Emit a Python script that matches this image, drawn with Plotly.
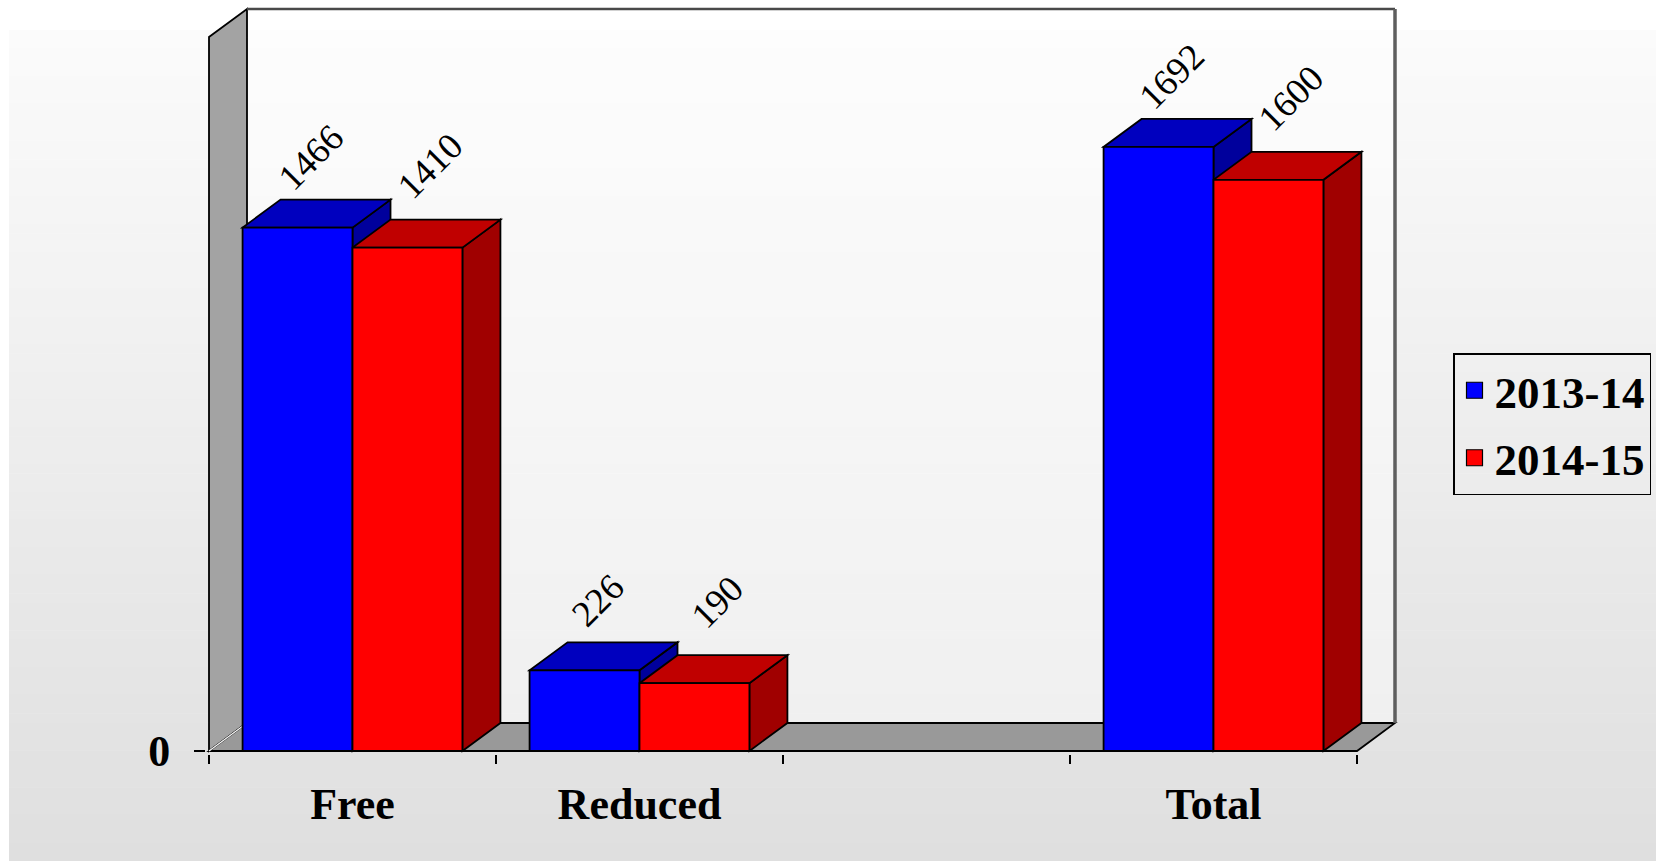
import plotly.graph_objects as go

# ---- data -------------------------------------------------------------
categories = ["Free", "Reduced", "", "Total"]
series_names = ["2013-14", "2014-15"]
values_2013_14 = [1466, 226, None, 1692]
values_2014_15 = [1410, 190, None, 1600]
y_tick_values = [0]
y_tick_labels = ["0"]

series_values = [values_2013_14, values_2014_15]

# ---- geometry of the pseudo-3D frame ---------------------------------
W, H = 1656, 861
X_LEFT_PX, CAT_PX = 209, 287.0          # front plane: x=-0.5 pixel and pixels per category
Y_ZERO_PX, UNIT_PX = 751, 0.357         # front plane: y=0 pixel and pixels per unit
PLOT_LEFT, PLOT_RIGHT, PLOT_TOP, PLOT_BOTTOM = 206, 1402, 5, 754
WALL_TOP = 2000
DEPTH_PX = (38, 28)                     # receding offset of the back plane
BAR_GAP = 0.234

dxu = DEPTH_PX[0] / CAT_PX
dyu = DEPTH_PX[1] / UNIT_PX
bar_w = (1 - BAR_GAP) / 2
x_first, x_last = -0.5, len(categories) - 0.5

x_range = [x_first - (X_LEFT_PX - PLOT_LEFT) / CAT_PX,
           x_first + (PLOT_RIGHT - X_LEFT_PX) / CAT_PX]
y_range = [-(PLOT_BOTTOM - Y_ZERO_PX) / UNIT_PX,
           (Y_ZERO_PX - PLOT_TOP) / UNIT_PX]

FACE_COLORS = [
    dict(front="#0000ff", top="#0000bf", side="#00009c"),
    dict(front="#ff0000", top="#c00000", side="#a00000"),
]
LABEL_SHIFT = [(-6, 42), (4, 54)]
SERIF = "Liberation Serif"
EDGE = dict(color="black", width=1.8)


def poly(points):
    return "M" + " L".join(f"{x:.5f},{y:.5f}" for x, y in points) + " Z"


def paper_x(px):
    return (px - PLOT_LEFT) / (PLOT_RIGHT - PLOT_LEFT)


def paper_y(py):
    return (PLOT_BOTTOM - py) / (PLOT_BOTTOM - PLOT_TOP)


shapes = []

# page background: soft vertical gradient
N_BANDS = 90
g_top, g_bottom = 30, H
c_top, c_bottom = 251, 223
for k in range(N_BANDS):
    y0 = g_top + (g_bottom - g_top) * k / N_BANDS
    y1 = g_top + (g_bottom - g_top) * (k + 1) / N_BANDS + 0.6
    c = round(c_top + (c_bottom - c_top) * k / (N_BANDS - 1))
    shapes.append(dict(type="rect", xref="paper", yref="paper", layer="below",
                       x0=paper_x(9), x1=paper_x(W + 2), y0=paper_y(y1), y1=paper_y(y0),
                       fillcolor=f"rgb({c},{c},{c})", line=dict(width=0)))

# back wall
shapes.append(dict(type="path", xref="x", yref="y", layer="below",
                   path=poly([(x_first + dxu, dyu), (x_last + dxu, dyu),
                              (x_last + dxu, WALL_TOP + dyu), (x_first + dxu, WALL_TOP + dyu)]),
                   fillcolor="rgba(255,255,255,0.45)", line=dict(width=0)))
# left side wall
shapes.append(dict(type="path", xref="x", yref="y", layer="below",
                   path=poly([(x_first, 0), (x_first, WALL_TOP),
                              (x_first + dxu, WALL_TOP + dyu), (x_first + dxu, dyu)]),
                   fillcolor="#a3a3a3", line=EDGE))
# floor
shapes.append(dict(type="path", xref="x", yref="y", layer="below",
                   path=poly([(x_first, 0), (x_last, 0), (x_last + dxu, dyu), (x_first + dxu, dyu)]),
                   fillcolor="#999999", line=EDGE))
# highlight where wall meets floor
shapes.append(dict(type="line", xref="x", yref="y", layer="below",
                   x0=x_first, y0=0, x1=x_first + dxu, y1=dyu,
                   line=dict(color="#f4f4f4", width=1.5)))
# back wall top and right edges
shapes.append(dict(type="line", xref="x", yref="y", layer="below",
                   x0=x_first + dxu, y0=WALL_TOP + dyu, x1=x_last + dxu, y1=WALL_TOP + dyu,
                   line=dict(color="#4a4a4a", width=2.5)))
shapes.append(dict(type="line", xref="x", yref="y", layer="below",
                   x0=x_last + dxu, y0=WALL_TOP + dyu, x1=x_last + dxu, y1=dyu,
                   line=dict(color="#5e5e5e", width=3.5)))

# bar tops and sides (fronts are the bar traces themselves)
annotations = []
for i in range(len(categories)):
    for s, vals in enumerate(series_values):
        v = vals[i]
        if v is None:
            continue
        left = i - bar_w + s * bar_w
        right = left + bar_w
        shapes.append(dict(type="path", xref="x", yref="y", layer="below",
                           path=poly([(right, 0), (right + dxu, dyu),
                                      (right + dxu, v + dyu), (right, v)]),
                           fillcolor=FACE_COLORS[s]["side"], line=EDGE))
        shapes.append(dict(type="path", xref="x", yref="y", layer="below",
                           path=poly([(left, v), (right, v),
                                      (right + dxu, v + dyu), (left + dxu, v + dyu)]),
                           fillcolor=FACE_COLORS[s]["top"], line=EDGE))
        annotations.append(dict(x=left + bar_w / 2 + dxu / 2, y=v + dyu, xref="x", yref="y",
                                text=str(v), showarrow=False, textangle=-45,
                                xanchor="center", yanchor="middle",
                                xshift=LABEL_SHIFT[s][0], yshift=LABEL_SHIFT[s][1],
                                font=dict(family=SERIF, size=37, color="black")))

fig = go.Figure()
for s, (name, vals) in enumerate(zip(series_names, series_values)):
    fig.add_trace(go.Bar(
        x=list(range(len(categories))), y=vals, name=name,
        width=bar_w, offset=-bar_w + s * bar_w,
        marker=dict(color=FACE_COLORS[s]["front"], line=EDGE),
        legendgroup=name, showlegend=False, hoverinfo="skip",
    ))
    # legend swatch for the series
    fig.add_trace(go.Scatter(
        x=[None], y=[None], name=name, mode="markers", legendgroup=name,
        marker=dict(symbol="square", size=16, color=FACE_COLORS[s]["front"],
                    line=dict(color="black", width=1.2)),
    ))

fig.update_layout(
    width=W, height=H,
    margin=dict(l=PLOT_LEFT, r=W - PLOT_RIGHT, t=PLOT_TOP, b=H - PLOT_BOTTOM, pad=0),
    paper_bgcolor="white", plot_bgcolor="rgba(0,0,0,0)",
    barmode="overlay",
    shapes=shapes, annotations=annotations,
    xaxis=dict(range=x_range, showgrid=False, zeroline=False, showline=False,
               tickmode="array", tickvals=list(range(len(categories))), ticktext=categories,
               ticks="", ticklabelstandoff=20,
               tickfont=dict(family=SERIF, size=44, color="black", weight="bold"),
               minor=dict(tickmode="array", tickvals=[k - 0.5 for k in range(len(categories) + 1)],
                          ticks="outside", ticklen=9, tickwidth=1.5, tickcolor="black",
                          showgrid=False)),
    yaxis=dict(range=y_range, showgrid=False, zeroline=False, showline=False,
               tickmode="array", tickvals=y_tick_values, ticktext=y_tick_labels,
               ticks="outside", ticklen=11, tickwidth=1.5, tickcolor="black",
               ticklabelstandoff=15,
               tickfont=dict(family=SERIF, size=44, color="black", weight="bold")),
    legend=dict(x=paper_x(1453), y=paper_y(353), xanchor="left", yanchor="top",
                bgcolor="rgba(0,0,0,0)", bordercolor="black", borderwidth=1.5,
                font=dict(family=SERIF, size=45, color="black", weight="bold"),
                traceorder="grouped", tracegroupgap=6),
    showlegend=True,
)

fig.write_html("out.html")
